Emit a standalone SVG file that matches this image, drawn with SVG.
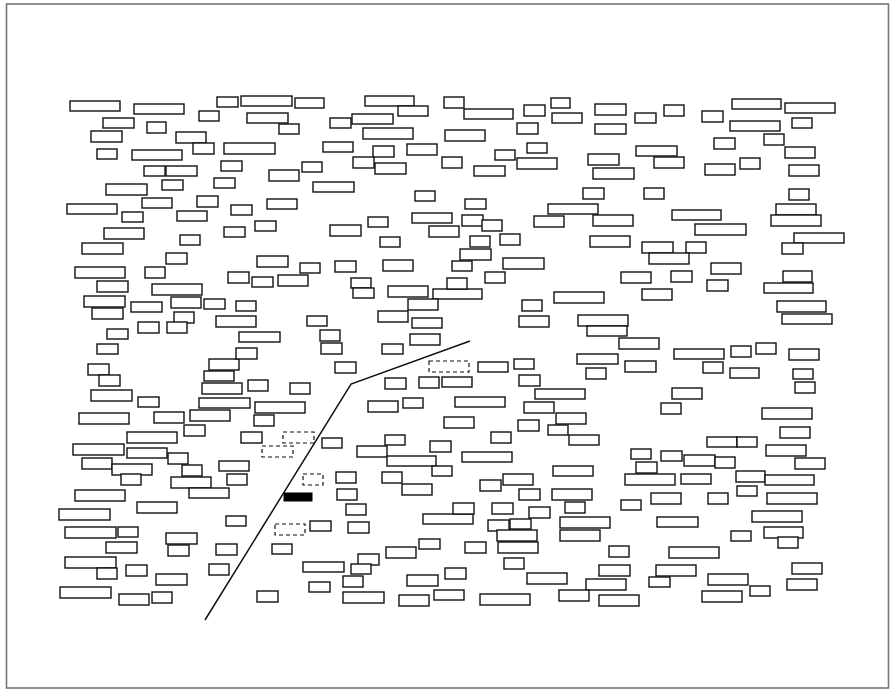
<svg xmlns="http://www.w3.org/2000/svg" width="892" height="693" viewBox="0 0 892 693">
<style>
.b{fill:#fff;stroke:#111;stroke-width:1.4}
.d{fill:#fff;stroke:#111;stroke-width:1.2;stroke-dasharray:4 3}
.f{fill:#000;stroke:#000;stroke-width:1}
.ln{fill:none;stroke:#111;stroke-width:1.5}
</style>
<rect x="0" y="0" width="892" height="693" fill="#fff"/>
<rect id="frame" x="6.5" y="4" width="882" height="684" fill="none" stroke="#777" stroke-width="1.6"/>
<g id="blocks">
<rect class="b" x="70" y="101" width="50" height="10"/>
<rect class="b" x="134" y="104" width="50" height="10"/>
<rect class="b" x="217" y="97" width="21" height="10"/>
<rect class="b" x="199" y="111" width="20" height="10"/>
<rect class="b" x="103" y="118" width="31" height="10"/>
<rect class="b" x="147" y="122" width="19" height="11"/>
<rect class="b" x="91" y="131" width="31" height="11"/>
<rect class="b" x="176" y="132" width="30" height="11"/>
<rect class="b" x="193" y="143" width="21" height="11"/>
<rect class="b" x="97" y="149" width="20" height="10"/>
<rect class="b" x="132" y="150" width="50" height="10"/>
<rect class="b" x="144" y="166" width="21" height="10"/>
<rect class="b" x="166" y="166" width="31" height="10"/>
<rect class="b" x="221" y="161" width="21" height="10"/>
<rect class="b" x="106" y="184" width="41" height="11"/>
<rect class="b" x="162" y="180" width="21" height="10"/>
<rect class="b" x="214" y="178" width="21" height="10"/>
<rect class="b" x="67" y="204" width="50" height="10"/>
<rect class="b" x="142" y="198" width="30" height="10"/>
<rect class="b" x="197" y="196" width="21" height="11"/>
<rect class="b" x="231" y="205" width="21" height="10"/>
<rect class="b" x="122" y="212" width="21" height="10"/>
<rect class="b" x="177" y="211" width="30" height="10"/>
<rect class="b" x="104" y="228" width="40" height="11"/>
<rect class="b" x="180" y="235" width="20" height="10"/>
<rect class="b" x="224" y="227" width="21" height="10"/>
<rect class="b" x="82" y="243" width="41" height="11"/>
<rect class="b" x="166" y="253" width="21" height="11"/>
<rect class="b" x="241" y="96" width="51" height="10"/>
<rect class="b" x="295" y="98" width="29" height="10"/>
<rect class="b" x="365" y="96" width="49" height="10"/>
<rect class="b" x="247" y="113" width="41" height="10"/>
<rect class="b" x="279" y="124" width="20" height="10"/>
<rect class="b" x="330" y="118" width="21" height="10"/>
<rect class="b" x="352" y="114" width="41" height="10"/>
<rect class="b" x="398" y="106" width="30" height="10"/>
<rect class="b" x="363" y="128" width="50" height="11"/>
<rect class="b" x="224" y="143" width="51" height="11"/>
<rect class="b" x="323" y="142" width="30" height="10"/>
<rect class="b" x="373" y="146" width="21" height="11"/>
<rect class="b" x="407" y="144" width="30" height="11"/>
<rect class="b" x="302" y="162" width="20" height="10"/>
<rect class="b" x="269" y="170" width="30" height="11"/>
<rect class="b" x="353" y="157" width="21" height="11"/>
<rect class="b" x="375" y="163" width="31" height="11"/>
<rect class="b" x="313" y="182" width="41" height="10"/>
<rect class="b" x="415" y="191" width="20" height="10"/>
<rect class="b" x="267" y="199" width="30" height="10"/>
<rect class="b" x="368" y="217" width="20" height="10"/>
<rect class="b" x="255" y="221" width="21" height="10"/>
<rect class="b" x="330" y="225" width="31" height="11"/>
<rect class="b" x="380" y="237" width="20" height="10"/>
<rect class="b" x="257" y="256" width="31" height="11"/>
<rect class="b" x="444" y="97" width="20" height="11"/>
<rect class="b" x="464" y="109" width="49" height="10"/>
<rect class="b" x="524" y="105" width="21" height="11"/>
<rect class="b" x="551" y="98" width="19" height="10"/>
<rect class="b" x="552" y="113" width="30" height="10"/>
<rect class="b" x="595" y="104" width="31" height="11"/>
<rect class="b" x="517" y="123" width="21" height="11"/>
<rect class="b" x="595" y="124" width="31" height="10"/>
<rect class="b" x="445" y="130" width="40" height="11"/>
<rect class="b" x="527" y="143" width="20" height="10"/>
<rect class="b" x="495" y="150" width="20" height="10"/>
<rect class="b" x="517" y="158" width="40" height="11"/>
<rect class="b" x="442" y="157" width="20" height="11"/>
<rect class="b" x="474" y="166" width="31" height="10"/>
<rect class="b" x="588" y="154" width="31" height="11"/>
<rect class="b" x="593" y="168" width="41" height="11"/>
<rect class="b" x="583" y="188" width="21" height="11"/>
<rect class="b" x="465" y="199" width="21" height="10"/>
<rect class="b" x="548" y="204" width="50" height="10"/>
<rect class="b" x="412" y="213" width="40" height="10"/>
<rect class="b" x="462" y="215" width="21" height="11"/>
<rect class="b" x="482" y="220" width="20" height="11"/>
<rect class="b" x="429" y="226" width="30" height="11"/>
<rect class="b" x="534" y="216" width="30" height="11"/>
<rect class="b" x="593" y="215" width="40" height="11"/>
<rect class="b" x="470" y="236" width="20" height="11"/>
<rect class="b" x="500" y="234" width="20" height="11"/>
<rect class="b" x="590" y="236" width="40" height="11"/>
<rect class="b" x="460" y="249" width="31" height="11"/>
<rect class="b" x="503" y="258" width="41" height="11"/>
<rect class="b" x="452" y="261" width="20" height="10"/>
<rect class="b" x="635" y="113" width="21" height="10"/>
<rect class="b" x="664" y="105" width="20" height="11"/>
<rect class="b" x="702" y="111" width="21" height="11"/>
<rect class="b" x="732" y="99" width="49" height="10"/>
<rect class="b" x="785" y="103" width="50" height="10"/>
<rect class="b" x="730" y="121" width="50" height="10"/>
<rect class="b" x="792" y="118" width="20" height="10"/>
<rect class="b" x="636" y="146" width="41" height="10"/>
<rect class="b" x="654" y="157" width="30" height="11"/>
<rect class="b" x="714" y="138" width="21" height="11"/>
<rect class="b" x="764" y="134" width="20" height="11"/>
<rect class="b" x="785" y="147" width="30" height="11"/>
<rect class="b" x="705" y="164" width="30" height="11"/>
<rect class="b" x="740" y="158" width="20" height="11"/>
<rect class="b" x="789" y="165" width="30" height="11"/>
<rect class="b" x="644" y="188" width="20" height="11"/>
<rect class="b" x="789" y="189" width="20" height="11"/>
<rect class="b" x="776" y="204" width="40" height="11"/>
<rect class="b" x="672" y="210" width="49" height="10"/>
<rect class="b" x="771" y="215" width="50" height="11"/>
<rect class="b" x="695" y="224" width="51" height="11"/>
<rect class="b" x="794" y="233" width="50" height="10"/>
<rect class="b" x="782" y="243" width="21" height="11"/>
<rect class="b" x="642" y="242" width="31" height="11"/>
<rect class="b" x="686" y="242" width="20" height="11"/>
<rect class="b" x="649" y="253" width="40" height="11"/>
<rect class="b" x="711" y="263" width="30" height="11"/>
<rect class="b" x="75" y="267" width="50" height="11"/>
<rect class="b" x="145" y="267" width="20" height="11"/>
<rect class="b" x="97" y="281" width="31" height="11"/>
<rect class="b" x="152" y="284" width="50" height="11"/>
<rect class="b" x="228" y="272" width="21" height="11"/>
<rect class="b" x="84" y="296" width="41" height="11"/>
<rect class="b" x="131" y="302" width="31" height="10"/>
<rect class="b" x="171" y="297" width="30" height="11"/>
<rect class="b" x="204" y="299" width="21" height="10"/>
<rect class="b" x="92" y="308" width="31" height="11"/>
<rect class="b" x="174" y="312" width="20" height="11"/>
<rect class="b" x="138" y="322" width="21" height="11"/>
<rect class="b" x="167" y="322" width="20" height="11"/>
<rect class="b" x="107" y="329" width="21" height="10"/>
<rect class="b" x="97" y="344" width="21" height="10"/>
<rect class="b" x="88" y="364" width="21" height="11"/>
<rect class="b" x="209" y="359" width="30" height="11"/>
<rect class="b" x="99" y="375" width="21" height="11"/>
<rect class="b" x="204" y="371" width="30" height="10"/>
<rect class="b" x="202" y="383" width="40" height="11"/>
<rect class="b" x="91" y="390" width="41" height="11"/>
<rect class="b" x="138" y="397" width="21" height="10"/>
<rect class="b" x="199" y="398" width="51" height="10"/>
<rect class="b" x="79" y="413" width="50" height="11"/>
<rect class="b" x="154" y="412" width="30" height="11"/>
<rect class="b" x="190" y="410" width="40" height="11"/>
<rect class="b" x="184" y="425" width="21" height="11"/>
<rect class="b" x="127" y="432" width="50" height="11"/>
<rect class="b" x="300" y="263" width="20" height="10"/>
<rect class="b" x="335" y="261" width="21" height="11"/>
<rect class="b" x="383" y="260" width="30" height="11"/>
<rect class="b" x="252" y="277" width="21" height="10"/>
<rect class="b" x="278" y="275" width="30" height="11"/>
<rect class="b" x="351" y="278" width="20" height="10"/>
<rect class="b" x="353" y="288" width="21" height="10"/>
<rect class="b" x="388" y="286" width="40" height="11"/>
<rect class="b" x="433" y="289" width="49" height="10"/>
<rect class="b" x="408" y="299" width="30" height="11"/>
<rect class="b" x="447" y="278" width="20" height="11"/>
<rect class="b" x="378" y="311" width="30" height="11"/>
<rect class="b" x="412" y="318" width="30" height="10"/>
<rect class="b" x="236" y="301" width="20" height="10"/>
<rect class="b" x="216" y="316" width="40" height="11"/>
<rect class="b" x="307" y="316" width="20" height="10"/>
<rect class="b" x="239" y="332" width="41" height="10"/>
<rect class="b" x="320" y="330" width="20" height="11"/>
<rect class="b" x="321" y="343" width="21" height="11"/>
<rect class="b" x="410" y="334" width="30" height="11"/>
<rect class="b" x="236" y="348" width="21" height="11"/>
<rect class="b" x="382" y="344" width="21" height="10"/>
<rect class="b" x="335" y="362" width="21" height="11"/>
<rect class="b" x="248" y="380" width="20" height="11"/>
<rect class="b" x="290" y="383" width="20" height="11"/>
<rect class="b" x="255" y="402" width="50" height="11"/>
<rect class="b" x="254" y="415" width="20" height="11"/>
<rect class="b" x="241" y="432" width="21" height="11"/>
<rect class="b" x="385" y="378" width="21" height="11"/>
<rect class="b" x="419" y="377" width="20" height="11"/>
<rect class="b" x="442" y="377" width="30" height="10"/>
<rect class="b" x="368" y="401" width="30" height="11"/>
<rect class="b" x="403" y="398" width="20" height="10"/>
<rect class="b" x="444" y="417" width="30" height="11"/>
<rect class="d" x="429" y="361" width="40" height="11"/>
<rect class="d" x="283" y="432" width="31" height="11"/>
<rect class="b" x="485" y="272" width="20" height="11"/>
<rect class="b" x="621" y="272" width="30" height="11"/>
<rect class="b" x="554" y="292" width="50" height="11"/>
<rect class="b" x="642" y="289" width="30" height="11"/>
<rect class="b" x="522" y="300" width="20" height="11"/>
<rect class="b" x="519" y="316" width="30" height="11"/>
<rect class="b" x="578" y="315" width="50" height="11"/>
<rect class="b" x="587" y="326" width="40" height="10"/>
<rect class="b" x="619" y="338" width="40" height="11"/>
<rect class="b" x="577" y="354" width="41" height="10"/>
<rect class="b" x="625" y="361" width="31" height="11"/>
<rect class="b" x="586" y="368" width="20" height="11"/>
<rect class="b" x="478" y="362" width="30" height="10"/>
<rect class="b" x="514" y="359" width="20" height="10"/>
<rect class="b" x="519" y="375" width="21" height="11"/>
<rect class="b" x="535" y="389" width="50" height="10"/>
<rect class="b" x="455" y="397" width="50" height="10"/>
<rect class="b" x="524" y="402" width="30" height="11"/>
<rect class="b" x="556" y="413" width="30" height="11"/>
<rect class="b" x="518" y="420" width="21" height="11"/>
<rect class="b" x="548" y="425" width="20" height="10"/>
<rect class="b" x="491" y="432" width="20" height="11"/>
<rect class="b" x="671" y="271" width="21" height="11"/>
<rect class="b" x="707" y="280" width="21" height="11"/>
<rect class="b" x="783" y="271" width="29" height="11"/>
<rect class="b" x="764" y="283" width="49" height="10"/>
<rect class="b" x="777" y="301" width="49" height="11"/>
<rect class="b" x="782" y="314" width="50" height="10"/>
<rect class="b" x="674" y="349" width="50" height="10"/>
<rect class="b" x="731" y="346" width="20" height="11"/>
<rect class="b" x="756" y="343" width="20" height="11"/>
<rect class="b" x="789" y="349" width="30" height="11"/>
<rect class="b" x="703" y="362" width="20" height="11"/>
<rect class="b" x="730" y="368" width="29" height="10"/>
<rect class="b" x="793" y="369" width="20" height="10"/>
<rect class="b" x="795" y="382" width="20" height="11"/>
<rect class="b" x="672" y="388" width="30" height="11"/>
<rect class="b" x="661" y="403" width="20" height="11"/>
<rect class="b" x="762" y="408" width="50" height="11"/>
<rect class="b" x="780" y="427" width="30" height="11"/>
<rect class="b" x="707" y="437" width="30" height="10"/>
<rect class="b" x="737" y="437" width="20" height="10"/>
<rect class="b" x="73" y="444" width="51" height="11"/>
<rect class="b" x="127" y="448" width="40" height="10"/>
<rect class="b" x="168" y="453" width="20" height="11"/>
<rect class="b" x="82" y="458" width="30" height="11"/>
<rect class="b" x="112" y="464" width="40" height="11"/>
<rect class="b" x="182" y="465" width="20" height="11"/>
<rect class="b" x="219" y="461" width="30" height="10"/>
<rect class="b" x="121" y="474" width="20" height="11"/>
<rect class="b" x="171" y="477" width="40" height="11"/>
<rect class="b" x="227" y="474" width="20" height="11"/>
<rect class="b" x="189" y="488" width="40" height="10"/>
<rect class="b" x="75" y="490" width="50" height="11"/>
<rect class="b" x="137" y="502" width="40" height="11"/>
<rect class="b" x="59" y="509" width="51" height="11"/>
<rect class="b" x="226" y="516" width="20" height="10"/>
<rect class="b" x="65" y="527" width="51" height="11"/>
<rect class="b" x="118" y="527" width="20" height="10"/>
<rect class="b" x="166" y="533" width="31" height="11"/>
<rect class="b" x="106" y="542" width="31" height="11"/>
<rect class="b" x="168" y="545" width="21" height="11"/>
<rect class="b" x="216" y="544" width="21" height="11"/>
<rect class="b" x="65" y="557" width="51" height="11"/>
<rect class="b" x="97" y="568" width="20" height="11"/>
<rect class="b" x="126" y="565" width="21" height="11"/>
<rect class="b" x="209" y="564" width="20" height="11"/>
<rect class="b" x="156" y="574" width="31" height="11"/>
<rect class="b" x="60" y="587" width="51" height="11"/>
<rect class="b" x="119" y="594" width="30" height="11"/>
<rect class="b" x="152" y="592" width="20" height="11"/>
<rect class="b" x="322" y="438" width="20" height="10"/>
<rect class="d" x="262" y="446" width="31" height="11"/>
<rect class="b" x="357" y="446" width="30" height="11"/>
<rect class="b" x="385" y="435" width="20" height="10"/>
<rect class="b" x="387" y="456" width="49" height="10"/>
<rect class="b" x="430" y="441" width="21" height="11"/>
<rect class="b" x="432" y="466" width="20" height="10"/>
<rect class="d" x="303" y="474" width="20" height="11"/>
<rect class="b" x="336" y="472" width="20" height="11"/>
<rect class="b" x="382" y="472" width="20" height="11"/>
<rect class="b" x="402" y="484" width="30" height="11"/>
<rect class="f" x="284" y="493" width="28" height="8"/>
<rect class="b" x="337" y="489" width="20" height="11"/>
<rect class="b" x="346" y="504" width="20" height="11"/>
<rect class="b" x="423" y="514" width="50" height="10"/>
<rect class="d" x="275" y="524" width="30" height="11"/>
<rect class="b" x="310" y="521" width="21" height="10"/>
<rect class="b" x="348" y="522" width="21" height="11"/>
<rect class="b" x="272" y="544" width="20" height="10"/>
<rect class="b" x="419" y="539" width="21" height="10"/>
<rect class="b" x="386" y="547" width="30" height="11"/>
<rect class="b" x="358" y="554" width="21" height="11"/>
<rect class="b" x="303" y="562" width="41" height="10"/>
<rect class="b" x="351" y="564" width="20" height="10"/>
<rect class="b" x="445" y="568" width="21" height="11"/>
<rect class="b" x="309" y="582" width="21" height="10"/>
<rect class="b" x="343" y="576" width="20" height="11"/>
<rect class="b" x="407" y="575" width="31" height="11"/>
<rect class="b" x="257" y="591" width="21" height="11"/>
<rect class="b" x="343" y="592" width="41" height="11"/>
<rect class="b" x="399" y="595" width="30" height="11"/>
<rect class="b" x="434" y="590" width="30" height="10"/>
<rect class="b" x="569" y="435" width="30" height="10"/>
<rect class="b" x="462" y="452" width="50" height="10"/>
<rect class="b" x="631" y="449" width="20" height="10"/>
<rect class="b" x="636" y="462" width="21" height="11"/>
<rect class="b" x="625" y="474" width="50" height="11"/>
<rect class="b" x="553" y="466" width="40" height="10"/>
<rect class="b" x="503" y="474" width="30" height="11"/>
<rect class="b" x="480" y="480" width="21" height="11"/>
<rect class="b" x="519" y="489" width="21" height="11"/>
<rect class="b" x="552" y="489" width="40" height="11"/>
<rect class="b" x="621" y="500" width="20" height="10"/>
<rect class="b" x="453" y="503" width="21" height="11"/>
<rect class="b" x="492" y="503" width="21" height="11"/>
<rect class="b" x="529" y="507" width="21" height="11"/>
<rect class="b" x="565" y="502" width="20" height="11"/>
<rect class="b" x="488" y="520" width="21" height="11"/>
<rect class="b" x="510" y="519" width="21" height="10"/>
<rect class="b" x="560" y="517" width="50" height="11"/>
<rect class="b" x="497" y="530" width="40" height="11"/>
<rect class="b" x="560" y="530" width="40" height="11"/>
<rect class="b" x="498" y="542" width="40" height="11"/>
<rect class="b" x="465" y="542" width="21" height="11"/>
<rect class="b" x="609" y="546" width="20" height="11"/>
<rect class="b" x="504" y="558" width="20" height="11"/>
<rect class="b" x="599" y="565" width="31" height="11"/>
<rect class="b" x="527" y="573" width="40" height="11"/>
<rect class="b" x="586" y="579" width="40" height="11"/>
<rect class="b" x="480" y="594" width="50" height="11"/>
<rect class="b" x="559" y="590" width="30" height="11"/>
<rect class="b" x="599" y="595" width="40" height="11"/>
<rect class="b" x="766" y="445" width="40" height="11"/>
<rect class="b" x="795" y="458" width="30" height="11"/>
<rect class="b" x="661" y="451" width="21" height="10"/>
<rect class="b" x="684" y="455" width="31" height="11"/>
<rect class="b" x="715" y="457" width="20" height="11"/>
<rect class="b" x="681" y="474" width="30" height="10"/>
<rect class="b" x="736" y="471" width="29" height="11"/>
<rect class="b" x="765" y="475" width="49" height="10"/>
<rect class="b" x="737" y="486" width="20" height="10"/>
<rect class="b" x="651" y="493" width="30" height="11"/>
<rect class="b" x="708" y="493" width="20" height="11"/>
<rect class="b" x="767" y="493" width="50" height="11"/>
<rect class="b" x="752" y="511" width="50" height="11"/>
<rect class="b" x="657" y="517" width="41" height="10"/>
<rect class="b" x="764" y="527" width="39" height="11"/>
<rect class="b" x="731" y="531" width="20" height="10"/>
<rect class="b" x="778" y="537" width="20" height="11"/>
<rect class="b" x="669" y="547" width="50" height="11"/>
<rect class="b" x="792" y="563" width="30" height="11"/>
<rect class="b" x="656" y="565" width="40" height="11"/>
<rect class="b" x="649" y="577" width="21" height="10"/>
<rect class="b" x="708" y="574" width="40" height="11"/>
<rect class="b" x="750" y="586" width="20" height="10"/>
<rect class="b" x="787" y="579" width="30" height="11"/>
<rect class="b" x="702" y="591" width="40" height="11"/>
</g>
<g id="lines">
<polyline class="ln" points="470,341 351,384 205,620"/>
</g>
</svg>
